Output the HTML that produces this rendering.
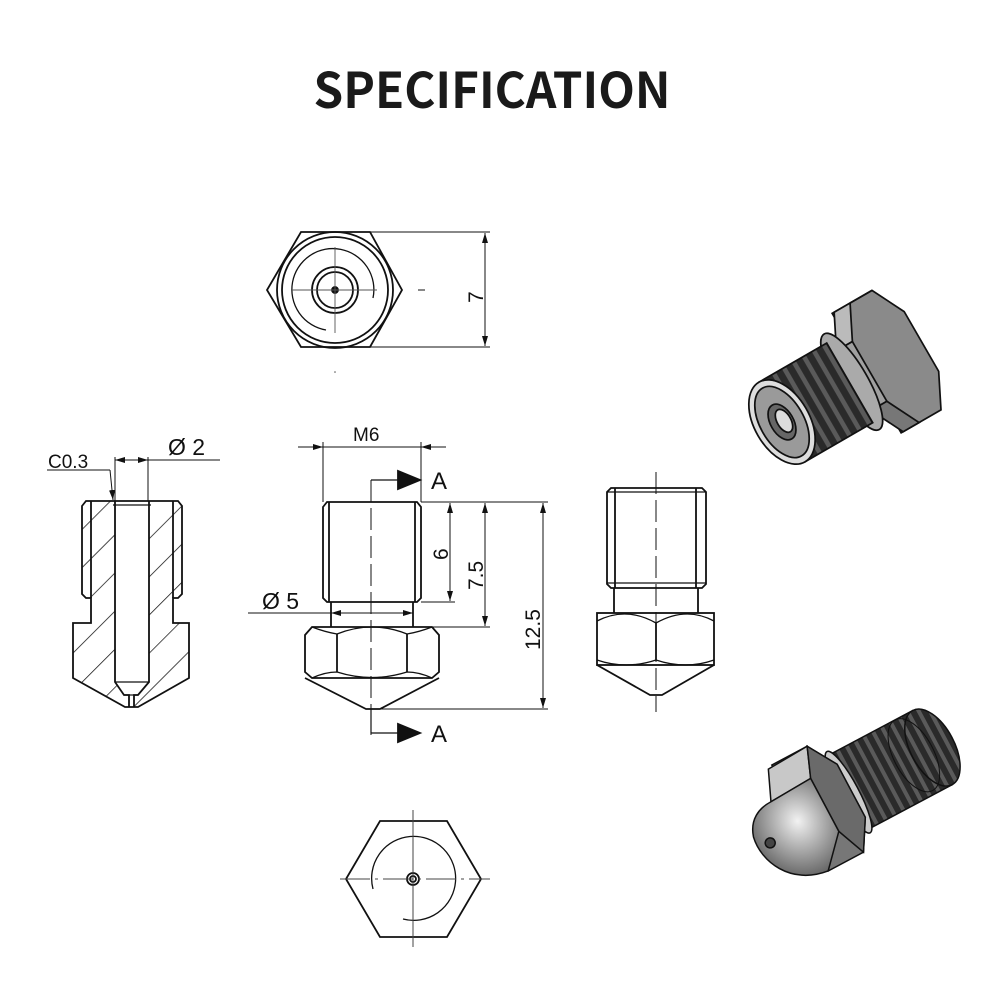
<!DOCTYPE html>
<html><head><meta charset="utf-8"><style>
html,body{margin:0;padding:0;background:#fff;}
svg{display:block}
text{font-family:"Liberation Sans",sans-serif;fill:#111}
</style></head><body>
<svg width="1000" height="1000" viewBox="0 0 1000 1000" xmlns="http://www.w3.org/2000/svg">
<defs>
<pattern id="hatch" patternUnits="userSpaceOnUse" width="27" height="27" patternTransform="rotate(45)">
<line x1="0" y1="0" x2="0" y2="27" stroke="#111" stroke-width="1.5"/>
</pattern>
<pattern id="rings" patternUnits="userSpaceOnUse" width="10" height="10">
<rect width="10" height="10" fill="#2a2a2a"/><rect x="3" width="4" height="10" fill="#5a5a5a"/>
</pattern>
<marker id="ar" viewBox="0 0 10 6" refX="10" refY="3" markerWidth="10" markerHeight="6" orient="auto-start-reverse" markerUnits="userSpaceOnUse"><path d="M0,0L10,3L0,6z" fill="#111"/></marker>
<radialGradient id="cone" cx="0.6" cy="0.35" r="0.8"><stop offset="0" stop-color="#f2f2f2"/><stop offset="1" stop-color="#444"/></radialGradient>
</defs>
<text x="492" y="108" font-size="49" font-weight="bold" text-anchor="middle" textLength="357" lengthAdjust="spacingAndGlyphs" style="fill:#1a1a1a;font-family:'Noto Sans CJK SC','Liberation Sans',sans-serif">SPECIFICATION</text>

<g fill="none" stroke="#111" stroke-width="1.8">
<!-- TOP VIEW -->
<polygon points="301,232 370,232 402,290 370,347 301,347 267,290"/>
<circle cx="335" cy="290" r="58"/>
<circle cx="335" cy="290" r="53"/>
<path d="M326,330 A41,41 0 1 1 373,298" stroke-width="1.3"/>
<circle cx="335" cy="290" r="23"/>
<circle cx="335" cy="290" r="18"/>
<circle cx="335" cy="290" r="3" fill="#111"/>
<line x1="292" y1="290" x2="377" y2="290" stroke-width="0.9" stroke="#555"/>
<line x1="335" y1="247" x2="335" y2="333" stroke-width="0.9" stroke="#555"/>
<line x1="418" y1="290" x2="425" y2="290" stroke-width="1"/>
<line x1="370" y1="232" x2="490" y2="232" stroke-width="1"/>
<line x1="370" y1="347" x2="490" y2="347" stroke-width="1"/>
<line x1="485" y1="233" x2="485" y2="346" stroke-width="1" marker-start="url(#ar)" marker-end="url(#ar)"/>
<circle cx="335" cy="372" r="0.8" fill="#555" stroke="none"/>

<!-- SECTION VIEW -->
<path d="M82,506 L86,501 L178,501 L182,506 L182,594 L178,598 L173,598 L173,623 L189,623 L189,678 L138,707 L125,707 L73,678 L73,623 L91,623 L91,598 L86,598 L82,594 Z M115,501 L115,682 L124,695 L129,695 L129,707 L134,707 L134,695 L138,695 L149,682 L149,501 Z" fill="url(#hatch)" fill-rule="evenodd"/>
<line x1="91" y1="501" x2="91" y2="598"/>
<line x1="173" y1="501" x2="173" y2="598"/>
<line x1="113" y1="505" x2="151" y2="505" stroke-width="1.2"/>
<line x1="124" y1="695" x2="138" y2="695" stroke-width="1.2"/>
<line x1="115" y1="682" x2="149" y2="682" stroke-width="1.2"/>
<line x1="47" y1="470" x2="110" y2="470" stroke-width="1"/>
<line x1="110" y1="470" x2="113" y2="500" stroke-width="1" marker-end="url(#ar)"/>
<line x1="115" y1="457" x2="115" y2="501" stroke-width="1"/>
<line x1="148" y1="457" x2="148" y2="501" stroke-width="1"/>
<line x1="115" y1="460" x2="148" y2="460" stroke-width="1" marker-start="url(#ar)" marker-end="url(#ar)"/>
<line x1="148" y1="460" x2="220" y2="460" stroke-width="1"/>

<!-- FRONT VIEW -->
<path d="M323,507 L327,502 L417,502 L421,507 L421,598 L417,602 L327,602 L323,598 Z"/>
<line x1="329" y1="502" x2="329" y2="602"/>
<line x1="415" y1="502" x2="415" y2="602"/>
<line x1="331" y1="602" x2="331" y2="627"/>
<line x1="413" y1="602" x2="413" y2="627"/>
<path d="M312,627 L432,627 L439,635 L439,672 L432,678 L312,678 L305,672 L305,635 Z"/>
<path d="M312,627 Q325,632 337,634 Q372,620 407,634 Q419,632 432,627" stroke-width="1.3"/>
<path d="M312,678 Q325,672 337,672 Q372,683 407,672 Q419,672 432,678" stroke-width="1.3"/>
<line x1="337" y1="634" x2="337" y2="672"/>
<line x1="407" y1="634" x2="407" y2="672"/>
<path d="M305,678 L366,709 L380,709 L439,678"/>
<line x1="371" y1="480" x2="371" y2="735" stroke-width="1" stroke-dasharray="22,6"/>
<path d="M371,480 L400,480" stroke-width="1.2"/>
<polygon points="398,471 420,480 398,489" fill="#111"/>
<path d="M371,709 L371,733 L400,733" stroke-width="1.2"/>
<polygon points="398,724 420,733 398,742" fill="#111"/>
<line x1="323" y1="442" x2="323" y2="502" stroke-width="1"/>
<line x1="421" y1="442" x2="421" y2="502" stroke-width="1"/>
<line x1="298" y1="447" x2="323" y2="447" stroke-width="1" marker-end="url(#ar)"/>
<line x1="446" y1="447" x2="421" y2="447" stroke-width="1" marker-end="url(#ar)"/>
<line x1="323" y1="447" x2="421" y2="447" stroke-width="1"/>
<line x1="248" y1="613" x2="331" y2="613" stroke-width="1"/>
<line x1="331" y1="613" x2="413" y2="613" stroke-width="1" marker-start="url(#ar)" marker-end="url(#ar)"/>
<line x1="421" y1="502" x2="548" y2="502" stroke-width="1"/>
<line x1="421" y1="602" x2="455" y2="602" stroke-width="1"/>
<line x1="432" y1="627" x2="490" y2="627" stroke-width="1"/>
<line x1="380" y1="709" x2="548" y2="709" stroke-width="1"/>
<line x1="450" y1="503" x2="450" y2="601" stroke-width="1" marker-start="url(#ar)" marker-end="url(#ar)"/>
<line x1="485" y1="503" x2="485" y2="626" stroke-width="1" marker-start="url(#ar)" marker-end="url(#ar)"/>
<line x1="543" y1="503" x2="543" y2="708" stroke-width="1" marker-start="url(#ar)" marker-end="url(#ar)"/>

<!-- SIDE VIEW -->
<path d="M607,492 L611,488 L702,488 L706,492 L706,584 L702,588 L611,588 L607,584 Z"/>
<line x1="615" y1="488" x2="615" y2="588"/>
<line x1="696" y1="488" x2="696" y2="588"/>
<line x1="607" y1="492" x2="706" y2="492" stroke-width="1.2"/>
<line x1="607" y1="583" x2="706" y2="583" stroke-width="1.2"/>
<line x1="614" y1="588" x2="614" y2="613"/>
<line x1="698" y1="588" x2="698" y2="613"/>
<rect x="597" y="613" width="117" height="52"/>
<path d="M597,621 Q626,606 656,623 Q686,606 714,621" stroke-width="1.3"/>
<path d="M597,660 Q626,670 656,660 Q686,670 714,660" stroke-width="1.3"/>
<line x1="656" y1="623" x2="656" y2="660"/>
<path d="M597,665 L650,695 L662,695 L714,665"/>
<line x1="656" y1="472" x2="656" y2="712" stroke-width="1" stroke-dasharray="22,6"/>

<!-- BOTTOM VIEW -->
<polygon points="380,821 447,821 481,879 447,937 380,937 346,879"/>
<path d="M373,889 A42,42 0 1 1 403,919" stroke-width="1.3"/>
<circle cx="413" cy="879" r="6"/>
<circle cx="413" cy="879" r="3"/>
<line x1="340" y1="879" x2="490" y2="879" stroke-width="1" stroke="#444" stroke-dasharray="30,5,3,5"/>
<line x1="413" y1="810" x2="413" y2="947" stroke-width="1" stroke="#444"/>
</g>

<g font-size="23">
<text x="48" y="468" font-size="19">C0.3</text>
<text x="168" y="455">Ø 2</text>
<text x="353" y="441" font-size="19">M6</text>
<text x="262" y="609">Ø 5</text>
<text x="431" y="489" font-size="24">A</text>
<text x="431" y="742" font-size="24">A</text>
<text transform="translate(448,560) rotate(-90)" font-size="21">6</text>
<text transform="translate(483,590) rotate(-90)" font-size="21">7.5</text>
<text transform="translate(540,650) rotate(-90)" font-size="21">12.5</text>
<text transform="translate(483,303) rotate(-90)" font-size="21">7</text>
</g>

<!-- 3D top -->
<g stroke="#111" stroke-width="1.5" transform="translate(782,422) rotate(-30) scale(1.15)">
<path d="M85,-60 L125,-60 L140,-30 L140,30 L125,60 L85,60 Z" fill="#8a8a8a"/>
<path d="M72,-30 L87,-60 L103,-60 L88,-30 Z" fill="#bbb"/>
<path d="M72,-30 L88,-30 L88,30 L72,30 Z" fill="#a0a0a0"/>
<path d="M72,30 L88,30 L103,60 L87,60 Z" fill="#777"/>
<line x1="103" y1="-60" x2="125" y2="-60"/>
<ellipse cx="70" cy="0" rx="14" ry="48" fill="#aaa"/>
<rect x="0" y="-40" width="68" height="80" fill="url(#rings)"/>
<ellipse cx="0" cy="0" rx="24" ry="40" fill="#ddd"/>
<ellipse cx="0" cy="0" rx="19" ry="34" fill="#9a9a9a"/>
<ellipse cx="0" cy="0" rx="10" ry="17" fill="#666"/>
<ellipse cx="2" cy="0" rx="6" ry="11" fill="#ddd"/>
</g>
<!-- 3D bottom -->
<g stroke="#111" stroke-width="1.5" transform="translate(800,818) rotate(-28)">
<rect x="55" y="-42" width="95" height="84" fill="url(#rings)"/>
<ellipse cx="150" cy="0" rx="22" ry="42" fill="url(#rings)"/>
<ellipse cx="130" cy="-2" rx="20" ry="40" fill="none" stroke-width="1"/>
<ellipse cx="55" cy="0" rx="10" ry="46" fill="#ccc"/>
<path d="M0,-60 L40,-60 L58,-30 L58,30 L40,60 L0,60 Z" fill="#777"/>
<path d="M-5,-58 L40,-60 L28,-30 L-18,-28 Z" fill="#c8c8c8"/>
<path d="M28,-30 L40,-60 L58,-30 L58,30 L40,60 L28,30 Z" fill="#6a6a6a"/>
<path d="M-18,-28 L28,-30 L28,30 L0,60 C-40,55 -55,20 -50,-5 C-45,-22 -32,-28 -18,-28 Z" fill="url(#cone)"/>
<circle cx="-38" cy="8" r="5" fill="#444"/>
</g>
</svg>
</body></html>
